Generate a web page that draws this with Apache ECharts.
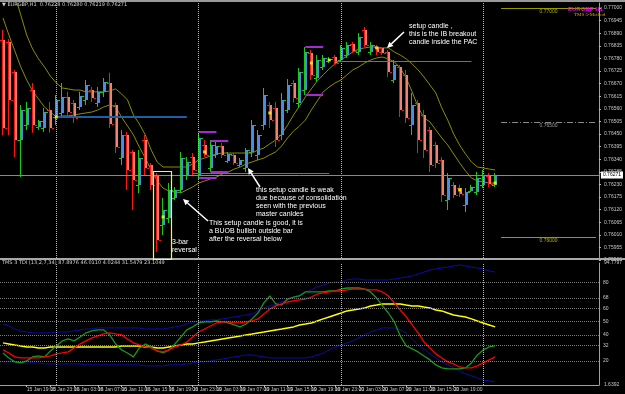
<!DOCTYPE html>
<html>
<head>
<meta charset="utf-8">
<script src="https://cdn.jsdelivr.net/npm/echarts@6/dist/echarts.min.js"></script>
<style>
html, body {margin: 0; padding: 0; background: #000;}
#chart {width: 625px; height: 394px;}
</style>
</head>
<body>
<div id="chart"></div>
<script>
// EURGBP H1, 15 Jan 15:00 .. 21 Jan 00:00 (one bar per hour)
var opens = [0.76861,0.76852,0.76721,0.76424,0.76489,0.76642,0.76481,0.76476,0.76555,0.76524,
    0.76542,0.76612,0.76586,0.76568,0.76599,0.76642,0.76586,0.76634,0.76673,0.76577,
    0.76345,0.76446,0.76372,0.76228,0.76424,0.76315,0.76267,0.76053,0.76083,0.76171,
    0.76206,0.76271,0.76350,0.76271,0.76402,0.76302,0.76359,0.76398,0.76332,0.76359,
    0.76315,0.76302,0.76372,0.76359,0.76489,0.76577,0.76564,0.76446,0.76555,0.76673,
    0.76586,0.76642,0.76804,0.76695,0.76743,0.76769,0.76786,0.76773,0.76795,0.76843,
    0.76808,0.76904,0.76808,0.76830,0.76826,0.76808,0.76686,0.76743,0.76708,0.76489,
    0.76586,0.76533,0.76468,0.76402,0.76337,0.76162,0.76228,0.76214,0.76140,0.76201,
    0.76197,0.76228,0.76267,0.76228];
var highs = [0.76904,0.76865,0.76730,0.76577,0.76590,0.76673,0.76511,0.76564,0.76590,0.76620,
    0.76673,0.76634,0.76599,0.76634,0.76686,0.76655,0.76655,0.76695,0.76717,0.76586,
    0.76468,0.76459,0.76380,0.76380,0.76446,0.76324,0.76280,0.76171,0.76236,0.76219,
    0.76372,0.76350,0.76367,0.76455,0.76424,0.76424,0.76415,0.76411,0.76372,0.76367,
    0.76345,0.76389,0.76511,0.76468,0.76651,0.76590,0.76590,0.76629,0.76690,0.76686,
    0.76738,0.76830,0.76817,0.76795,0.76795,0.76786,0.76795,0.76839,0.76852,0.76852,
    0.76891,0.76917,0.76852,0.76839,0.76830,0.76817,0.76773,0.76751,0.76730,0.76629,
    0.76599,0.76555,0.76481,0.76415,0.76350,0.76280,0.76241,0.76228,0.76214,0.76228,
    0.76284,0.76293,0.76280,0.76280];
var lows = [0.76446,0.76446,0.76350,0.76262,0.76468,0.76455,0.76468,0.76459,0.76455,0.76489,
    0.76524,0.76520,0.76498,0.76555,0.76577,0.76590,0.76568,0.76612,0.76476,0.76367,
    0.76315,0.76206,0.76118,0.76193,0.76271,0.76206,0.75935,0.76009,0.76062,0.76162,
    0.76193,0.76249,0.76271,0.76249,0.76350,0.76284,0.76345,0.76345,0.76324,0.76315,
    0.76306,0.76284,0.76350,0.76337,0.76468,0.76476,0.76393,0.76424,0.76542,0.76586,
    0.76564,0.76620,0.76686,0.76677,0.76730,0.76760,0.76751,0.76765,0.76782,0.76804,
    0.76795,0.76830,0.76795,0.76795,0.76795,0.76699,0.76673,0.76524,0.76498,0.76446,
    0.76367,0.76345,0.76284,0.76302,0.76153,0.76118,0.76171,0.76175,0.76110,0.76197,
    0.76184,0.76214,0.76219,0.76219];
var closes = [0.76476,0.76599,0.76424,0.76555,0.76564,0.76489,0.76507,0.76546,0.76476,0.76599,
    0.76612,0.76546,0.76520,0.76616,0.76664,0.76607,0.76634,0.76677,0.76494,0.76393,
    0.76446,0.76293,0.76249,0.76345,0.76302,0.76228,0.75987,0.76118,0.76206,0.76206,
    0.76345,0.76328,0.76293,0.76433,0.76359,0.76402,0.76398,0.76359,0.76363,0.76324,
    0.76337,0.76380,0.76489,0.76446,0.76620,0.76511,0.76424,0.76599,0.76664,0.76607,
    0.76721,0.76808,0.76708,0.76773,0.76782,0.76778,0.76760,0.76826,0.76839,0.76813,
    0.76874,0.76839,0.76839,0.76808,0.76804,0.76721,0.76751,0.76555,0.76520,0.76577,
    0.76424,0.76380,0.76315,0.76324,0.76184,0.76258,0.76184,0.76188,0.76197,0.76219,
    0.76258,0.76271,0.76232,0.76271];

// price action channel
var pacHigh = [0.77144,0.77088,0.77057,0.76970,0.76882,0.76821,0.76778,0.76743,0.76703,0.76673,
    0.76651,0.76647,0.76642,0.76642,0.76634,0.76634,0.76634,0.76634,0.76638,0.76647,
    0.76625,0.76599,0.76533,0.76494,0.76446,0.76380,0.76328,0.76306,0.76306,0.76306,
    0.76306,0.76306,0.76319,0.76337,0.76345,0.76354,0.76363,0.76367,0.76367,0.76367,
    0.76367,0.76367,0.76367,0.76380,0.76389,0.76407,0.76424,0.76450,0.76489,0.76533,
    0.76572,0.76612,0.76647,0.76682,0.76708,0.76734,0.76756,0.76773,0.76791,0.76808,
    0.76821,0.76826,0.76830,0.76830,0.76826,0.76826,0.76808,0.76795,0.76778,0.76756,
    0.76730,0.76699,0.76664,0.76629,0.76564,0.76511,0.76450,0.76402,0.76363,0.76328,
    0.76306,0.76302,0.76297,0.76293];
var pacLow = [0.76957,0.76882,0.76813,0.76743,0.76686,0.76638,0.76603,0.76568,0.76546,0.76524,
    0.76529,0.76529,0.76533,0.76538,0.76542,0.76546,0.76555,0.76568,0.76577,0.76568,
    0.76524,0.76485,0.76446,0.76393,0.76345,0.76293,0.76245,0.76214,0.76201,0.76197,
    0.76193,0.76206,0.76219,0.76236,0.76245,0.76254,0.76262,0.76276,0.76284,0.76297,
    0.76306,0.76319,0.76328,0.76337,0.76345,0.76359,0.76372,0.76398,0.76433,0.76463,
    0.76485,0.76511,0.76555,0.76594,0.76634,0.76655,0.76673,0.76686,0.76708,0.76730,
    0.76743,0.76760,0.76773,0.76782,0.76786,0.76778,0.76765,0.76738,0.76695,0.76634,
    0.76568,0.76520,0.76503,0.76468,0.76433,0.76402,0.76363,0.76324,0.76289,0.76258,
    0.76245,0.76241,0.76236,0.76236];

// small yellow signal marks [bar, price]
var signalMarks = [[9, 0.76524], [27, 0.76088], [34, 0.76372], [45, 0.76542], [52, 0.76760],
    [55, 0.76773], [63, 0.76826], [77, 0.76206], [83, 0.76236]];

// TMS TDI sub-window
var tdiUpper = [48.2,46.7,44.4,42.9,42.1,41.4,41.4,41.4,41.4,42.1,
    42.1,42.1,42.9,43.7,44.4,44.4,45.2,45.2,45.2,45.2,
    45.2,45.2,45.2,45.2,44.4,44.4,44.4,44.4,45.2,46.0,
    46.7,48.2,49.8,50.5,50.5,51.3,51.3,52.1,52.8,53.6,
    54.3,55.1,55.9,58.1,60.5,62.0,63.5,65.0,66.6,68.8,
    70.4,72.7,74.2,76.5,78.0,79.5,80.3,80.3,81.8,82.6,
    82.6,81.8,81.8,81.8,81.8,81.8,82.6,83.3,84.1,84.9,
    86.4,87.9,89.4,90.2,91.0,91.7,92.5,93.3,92.5,91.7,
    91.0,90.2,88.7,87.9];
var tdiLower = [19.3,19.3,19.3,18.5,18.5,18.5,18.5,17.7,17.7,17.7,
    17.7,17.7,17.7,17.7,17.0,17.0,17.0,17.0,17.0,17.0,
    17.0,17.0,17.0,17.0,16.2,16.2,16.2,16.2,17.0,17.0,
    17.0,17.7,18.5,19.3,19.3,20.0,20.8,21.5,22.3,23.1,
    23.8,24.6,24.6,23.8,23.1,22.3,22.3,22.3,22.3,22.3,
    22.3,22.3,23.1,24.6,26.1,28.4,30.7,32.2,33.8,35.3,
    37.6,39.9,42.1,43.7,45.2,45.2,45.2,43.7,41.4,36.8,
    32.2,29.2,25.4,22.3,19.3,17.0,14.7,12.4,10.1,8.6,
    7.1,5.5,4.8,4.0];
var tdiBase = [33.8,33.0,32.2,31.5,30.7,30.7,29.9,29.9,30.7,30.7,
    30.7,30.7,30.7,30.7,30.7,30.7,30.7,30.7,30.7,30.7,
    31.5,31.5,31.5,31.5,30.7,30.7,29.9,29.9,30.7,31.5,
    32.2,33.0,33.0,33.8,34.5,35.3,36.0,36.8,37.6,38.3,
    39.1,39.9,40.6,41.4,42.1,42.9,43.7,44.4,45.2,46.0,
    47.5,48.2,49.0,50.5,52.1,53.6,55.1,56.6,58.2,58.9,
    59.7,60.5,62.0,62.7,63.5,63.5,63.5,63.5,62.7,62.0,
    62.0,61.2,60.5,58.9,58.2,56.6,55.1,54.3,53.6,52.1,
    50.5,49.0,47.5,46.0];
var tdiSignal = [28.4,26.1,23.1,22.3,22.3,22.3,22.3,23.1,23.8,25.4,
    26.1,26.9,29.9,33.0,35.3,37.6,39.1,40.6,41.4,40.6,
    39.9,36.8,33.8,32.2,30.7,29.9,27.6,26.9,28.4,30.7,
    32.2,34.5,38.3,42.1,44.4,46.7,49.0,49.8,49.8,49.0,
    49.0,49.8,50.5,52.1,55.9,59.7,62.0,63.5,65.0,65.8,
    66.6,67.3,68.8,71.1,71.9,72.7,73.4,73.4,74.2,74.9,
    74.9,74.9,74.2,74.2,72.7,69.6,64.3,58.9,53.6,47.5,
    41.4,34.5,29.9,25.4,22.3,19.3,17.7,15.4,14.7,14.7,
    16.2,18.5,20.8,23.1];
var tdiRsi = [26.1,22.3,19.3,18.5,20.0,23.1,23.8,23.1,27.6,31.5,
    35.3,36.8,35.3,38.3,41.4,42.9,43.7,43.7,39.9,33.0,
    28.4,26.1,23.1,29.9,33.0,30.7,27.6,26.1,28.4,33.0,
    38.3,43.7,46.0,49.0,49.8,49.8,50.5,49.8,49.0,47.5,
    46.0,48.2,52.1,56.6,64.3,69.6,63.5,62.7,67.3,68.8,
    69.6,72.7,72.7,72.7,72.7,73.4,73.4,74.9,75.7,75.7,
    75.7,74.9,72.7,68.1,62.0,56.6,49.8,39.1,31.5,29.2,
    26.9,23.8,20.8,17.0,14.7,13.9,13.9,13.9,14.7,18.5,
    24.6,28.4,30.7,31.5];
var tdiLevels = [80, 68, 60, 50, 40, 32, 20];
var tdiMin = 1.6392, tdiMax = 94.7797;

var timeLabels = ['15 Jan 2015', '15 Jan 19:00', '15 Jan 23:00', '16 Jan 03:00', '16 Jan 07:00',
    '16 Jan 11:00', '16 Jan 15:00', '16 Jan 19:00', '16 Jan 23:00', '19 Jan 03:00', '19 Jan 07:00',
    '19 Jan 11:00', '19 Jan 15:00', '19 Jan 19:00', '19 Jan 23:00', '20 Jan 03:00', '20 Jan 07:00',
    '20 Jan 11:00', '20 Jan 15:00', '20 Jan 19:00', '20 Jan 23:00'];
var daySeparators = [9, 33, 57, 81];
var lastPrice = 0.76271;
var priceLevels = [0.77000, 0.76500, 0.76000];

var slotCount = 101;
var categories = [];
for (var i = 0; i < slotCount; i++) {
    categories.push(String(i));
}
var barData = opens.map(function (o, i) {
    return [i, o, highs[i], lows[i], closes[i]];
});

function render_bar(params, api) {
    var idx = api.value(0);
    var o = api.value(1), h = api.value(2), l = api.value(3), c = api.value(4);
    var pH = api.coord([idx, h]), pL = api.coord([idx, l]);
    var yo = Math.round(api.coord([idx, o])[1]), yc = Math.round(api.coord([idx, c])[1]);
    var x = Math.round(pH[0]);
    var up = c >= o;
    var wick = up ? "#19c819" : "#ff1414";
    var body = up ? "#4a8ee0" : "#f4806e";
    var y1 = Math.min(yo, yc), y2 = Math.max(yo, yc);
    return {
        type: "group",
        children: [
            {type: "rect", shape: {x: x - 1, y: pH[1], width: 1, height: Math.max(1, pL[1] - pH[1])}, style: {fill: wick}},
            {type: "rect", shape: {x: x, y: y1, width: 2, height: Math.max(1, y2 - y1)}, style: {fill: body}},
            {type: "rect", shape: {x: x - 3, y: yo, width: 2, height: 1}, style: {fill: wick}},
            {type: "rect", shape: {x: x + 2, y: yc, width: 2, height: 1}, style: {fill: wick}}
        ]
    };
}

function seg(x1, x2, price, style, label) {
    return [
        {coord: [x1, price], lineStyle: style, label: label || {show: false}},
        {coord: [x2, price]}
    ];
}

function arrow(x1, y1, x2, y2) {
    var dx = x2 - x1, dy = y2 - y1, len = Math.sqrt(dx * dx + dy * dy);
    var ux = dx / len, uy = dy / len, hl = 6, hw = 3;
    var bx = x2 - ux * hl, by = y2 - uy * hl;
    return [
        {type: "line", z: 100, shape: {x1: x1, y1: y1, x2: bx, y2: by}, style: {stroke: "#fff", lineWidth: 1.5}},
        {type: "polygon", z: 100, shape: {points: [[x2, y2], [bx - uy * hw, by + ux * hw], [bx + uy * hw, by - ux * hw]]}, style: {fill: "#fff"}}
    ];
}

function note(x, y, text, lh) {
    return {
        type: "text", z: 100, x: x, y: y,
        style: {text: text, fill: "#fff", fontSize: 7, fontFamily: "Liberation Sans", lineHeight: lh, verticalAlign: "top"}
    };
}

var blueDark = {color: "#1f5f9f", width: 2, type: "solid"};
var blue = {color: "#2f80d8", width: 1, type: "solid"};
var purple = {color: "#a32bd6", width: 2, type: "solid"};
var olive = {color: "#9a9a00", width: 1, type: "solid"};
var dashDot = {color: "#8a8a8a", width: 1, type: [6, 2, 1, 2]};
var sepStyle = {color: "#b4b4b4", width: 1, type: "dotted"};
var smallLabel = function (txt, color) {
    return {show: true, position: "insideMiddleBottom", formatter: txt, color: color, fontSize: 5, distance: 1, fontFamily: "Liberation Sans"};
};

var mainMarks = daySeparators.map(function (d) {
    return {xAxis: d, lineStyle: sepStyle, label: {show: false}};
});
mainMarks.push({
    yAxis: lastPrice,
    lineStyle: {color: "#8a8a8a", width: 1, type: "solid"},
    label: {show: true, position: "end", formatter: lastPrice.toFixed(5), color: "#000", backgroundColor: "#fff",
        fontSize: 5, padding: [1, 2], distance: 2, fontFamily: "Liberation Sans"}
});
mainMarks.push(seg(9, 31, 0.76524, blueDark));
mainMarks.push(seg(56, 79, 0.76769, blue));
mainMarks.push(seg(32, 55, 0.76280, blue));
mainMarks.push(seg(33, 36, 0.76459, purple));
mainMarks.push(seg(33, 36, 0.76258, purple));
mainMarks.push(seg(35, 38, 0.76420, purple));
mainMarks.push(seg(35, 38, 0.76284, purple));
mainMarks.push(seg(51, 54, 0.76830, purple));
mainMarks.push(seg(51, 54, 0.76620, purple));
mainMarks.push(seg(84, 100, priceLevels[0], olive, smallLabel(priceLevels[0].toFixed(5), "#b0b000")));
mainMarks.push(seg(84, 100, priceLevels[1], dashDot, smallLabel(priceLevels[1].toFixed(5), "#9a9a9a")));
mainMarks.push(seg(84, 100, priceLevels[2], olive, smallLabel(priceLevels[2].toFixed(5), "#b0b000")));

var subMarks = daySeparators.map(function (d) {
    return {xAxis: d, lineStyle: sepStyle, label: {show: false}};
});
tdiLevels.forEach(function (v) {
    subMarks.push({
        yAxis: v,
        lineStyle: {color: "#7a7a7a", width: 1, type: "dotted"},
        label: {show: true, position: "end", formatter: String(v), color: "#c8c8c8", fontSize: 5, distance: 4, fontFamily: "Liberation Sans"}
    });
});

var graphics = [
    {type: "rect", z: 90, shape: {x: 0, y: 0, width: 625, height: 2}, style: {fill: "#9a9a9a"}},
    {type: "rect", z: 90, shape: {x: 0, y: 258, width: 625, height: 2}, style: {fill: "#a8a8a8"}},
    {type: "text", z: 100, x: 2, y: 5, style: {text: "\u25BC EURGBP,H1  0.76228 0.76280 0.76219 0.76271", fill: "#d0d0d0", fontSize: 5, fontFamily: "DejaVu Sans", verticalAlign: "middle"}},
    {type: "text", z: 100, x: 2, y: 263, style: {text: "TMS 3 TDI (13,2,7,34) 87.8976 46.0110 4.0244 31.5479 23.1049", fill: "#d0d0d0", fontSize: 5, fontFamily: "DejaVu Sans", verticalAlign: "middle"}},
    {type: "text", z: 100, x: 568, y: 9, style: {text: "EURGBP H1", fill: "#ff00ff", fontSize: 6, fontWeight: "bold", fontFamily: "Liberation Sans", verticalAlign: "middle"}},
    {type: "text", z: 100, x: 574, y: 15, style: {text: "TMS 5-Method", fill: "#d8a010", fontSize: 5, fontFamily: "Liberation Serif", verticalAlign: "middle"}},
    {type: "rect", z: 100, shape: {x: 153.5, y: 171.5, width: 18, height: 88}, style: {fill: null, stroke: "#ffff00", lineWidth: 1.2}},
    note(409, 21.5, "setup candle ,\nthis is the IB breakout\ncandle inside the PAC", 8.3),
    note(256, 186, "this setup candle is weak\ndue because of consolidation\nseen with the previous\nmaster canldes", 7.9),
    note(209, 219.5, "This setup candle is good, it is\na BUOB bullish outside bar\nafter the reversal below", 7.9),
    note(172, 238, "3-bar\nreversal", 8)
].concat(arrow(404, 32, 387, 48), arrow(260, 187, 248, 168), arrow(208, 221, 183, 199));

var option = {
    backgroundColor: "#000",
    animation: false,
    graphic: graphics,
    grid: [
        {left: -2, top: 3, width: 606, height: 257},
        {left: -2, top: 263, width: 606, height: 122}
    ],
    xAxis: [
        {
            type: "category", gridIndex: 0, data: categories,
            axisLine: {show: false}, axisTick: {show: false}, axisLabel: {show: false}, splitLine: {show: false}
        },
        {
            type: "category", gridIndex: 1, data: categories,
            axisLine: {show: true, lineStyle: {color: "#a0a0a0"}},
            axisTick: {
                show: true, alignWithLabel: true, length: 2, lineStyle: {color: "#c0c0c0"},
                interval: function (index) { return index % 4 === 0 && index / 4 < timeLabels.length; }
            },
            axisLabel: {
                color: "#c8c8c8", fontSize: 5, fontFamily: "Liberation Sans", align: "left", margin: 2,
                interval: function (index) { return index % 4 === 0 && index / 4 < timeLabels.length; },
                formatter: function (value, index) { return timeLabels[index / 4] || ""; }
            },
            splitLine: {show: false}
        }
    ],
    yAxis: [
        {
            type: "value", gridIndex: 0, position: "right", min: 0.759, max: 0.77022, interval: 0.00055,
            axisLine: {show: true, lineStyle: {color: "#a0a0a0"}},
            axisTick: {show: true, length: 2, lineStyle: {color: "#c0c0c0"}},
            axisLabel: {color: "#c8c8c8", fontSize: 5, fontFamily: "Liberation Sans", margin: 5, showMaxLabel: false,
                formatter: function (v) { return v.toFixed(5); }},
            splitLine: {show: false}
        },
        {
            type: "value", gridIndex: 1, position: "right", min: tdiMin, max: tdiMax, interval: tdiMax - tdiMin,
            axisLine: {show: true, lineStyle: {color: "#a0a0a0"}},
            axisTick: {show: false},
            axisLabel: {color: "#c8c8c8", fontSize: 5, fontFamily: "Liberation Sans", margin: 5,
                formatter: function (v) { return v.toFixed(4); }},
            splitLine: {show: false}
        }
    ],
    series: [
        {
            name: "PAC high", type: "line", xAxisIndex: 0, yAxisIndex: 0, data: pacHigh,
            showSymbol: false, lineStyle: {color: "#8c8c00", width: 1}, z: 3,
            markLine: {silent: true, symbol: ["none", "none"], precision: 6, animation: false, data: mainMarks}
        },
        {
            name: "PAC low", type: "line", xAxisIndex: 0, yAxisIndex: 0, data: pacLow,
            showSymbol: false, lineStyle: {color: "#8c8c00", width: 1}, z: 3
        },
        {
            name: "Bars", type: "custom", xAxisIndex: 0, yAxisIndex: 0, data: barData,
            renderItem: render_bar, encode: {x: 0, y: [1, 2, 3, 4]}, clip: true, z: 4
        },
        {
            name: "Signals", type: "scatter", xAxisIndex: 0, yAxisIndex: 0, data: signalMarks,
            symbol: "rect", symbolSize: [3, 3], itemStyle: {color: "#ffff00"}, z: 5
        },
        {
            name: "Upper band", type: "line", xAxisIndex: 1, yAxisIndex: 1, data: tdiUpper,
            showSymbol: false, lineStyle: {color: "#0c0ca8", width: 1}
        },
        {
            name: "Lower band", type: "line", xAxisIndex: 1, yAxisIndex: 1, data: tdiLower,
            showSymbol: false, lineStyle: {color: "#0c0ca8", width: 1}
        },
        {
            name: "Market base", type: "line", xAxisIndex: 1, yAxisIndex: 1, data: tdiBase,
            showSymbol: false, lineStyle: {color: "#ffff00", width: 1.5},
            markLine: {silent: true, symbol: ["none", "none"], precision: 4, animation: false, data: subMarks}
        },
        {
            name: "RSI", type: "line", xAxisIndex: 1, yAxisIndex: 1, data: tdiRsi,
            showSymbol: false, lineStyle: {color: "#1a961a", width: 1.3}
        },
        {
            name: "Signal", type: "line", xAxisIndex: 1, yAxisIndex: 1, data: tdiSignal,
            showSymbol: false, lineStyle: {color: "#ff0000", width: 1.3}
        }
    ]
};

var chart = echarts.init(document.getElementById("chart"));
chart.setOption(option);
</script>
</body>
</html>
